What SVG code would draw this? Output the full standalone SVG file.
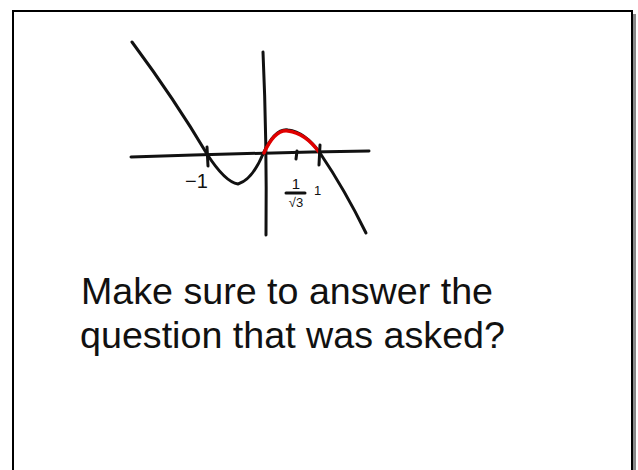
<svg xmlns="http://www.w3.org/2000/svg" width="638" height="470" viewBox="0 0 638 470">
<style>
.ink{fill:none;stroke:#111;stroke-width:3;stroke-linecap:round;stroke-linejoin:round}
.red{fill:none;stroke:#e00000;stroke-width:3.5;stroke-linecap:round}
.hw{font-family:"Liberation Sans","DejaVu Sans",sans-serif;fill:#111}
</style>
<rect x="0" y="0" width="638" height="470" fill="#fff"/>
<rect x="633" y="14" width="3" height="460" fill="#888"/>
<rect x="13" y="11" width="619" height="470" fill="#fff" stroke="#000" stroke-width="2"/>
<g id="axes">
<path class="ink" d="M131,157 Q 250,153 369,151"/>
<path class="ink" d="M263,52 Q 267,140 266,235"/>
</g>
<g id="curve">
<path class="ink" d="M132,42 Q 175,100 207,154 Q 225,182 238,184 Q 252,180 263,154"/>
<path class="ink" stroke-width="4.5" d="M263,154 Q 275,128 288,130 Q 305,132 320,153"/>
<path class="red" d="M264,153 Q 275,129 288,131 Q 305,133 319,152"/>
<path class="ink" d="M320,153 Q 345,190 366,233"/>
</g>
<g id="ticks">
<path class="ink" d="M207,147 L208,166"/>
<path class="ink" d="M320,145 L319,165"/>
<path class="ink" d="M297,151 L296,159"/>
</g>
<g id="labels">
<text class="hw" x="185" y="188" font-size="20">−1</text>
<text class="hw" x="314" y="195" font-size="13">1</text>
<text class="hw" x="296" y="189" font-size="15" text-anchor="middle">1</text>
<path class="ink" stroke-width="2.5" d="M286,193 L305,193"/>
<text class="hw" x="296" y="207" font-size="13" text-anchor="middle">√3</text>
</g>
<g id="message">
<text class="hw" x="81" y="304" font-size="37" textLength="412" lengthAdjust="spacingAndGlyphs">Make sure to answer the</text>
<text class="hw" x="80" y="348" font-size="37" textLength="425" lengthAdjust="spacingAndGlyphs">question that was asked?</text>
</g>
</svg>
